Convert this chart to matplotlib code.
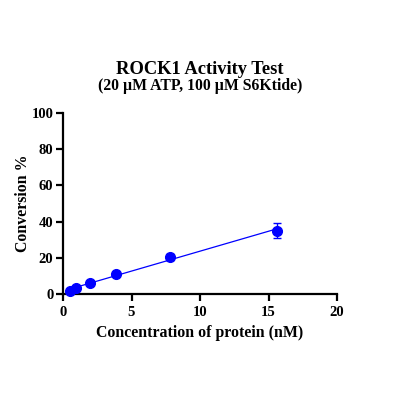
import numpy as np
import matplotlib
matplotlib.use("Agg")
import matplotlib.pyplot as plt

# Data
conc = np.array([0.49, 0.98, 1.95, 3.9, 7.8, 15.6])
conversion = np.array([1.5, 3.5, 6.0, 11.0, 20.5, 35.0])
err = np.array([0.4, 0.6, 0.6, 0.8, 1.6, 4.2])

x_ticks = [0, 5, 10, 15, 20]
y_ticks = [0, 20, 40, 60, 80, 100]

plt.rcParams['font.family'] = ['Liberation Serif', 'DejaVu Serif']
plt.rcParams['font.weight'] = 'bold'

fig = plt.figure(figsize=(4.03, 4.03), dpi=100)
ax = fig.add_axes([63/403, 109/403, 274/403, 181/403])

blue = '#0000ff'
# linear fit
slope, intercept = np.polyfit(conc, conversion, 1)
xf = np.array([conc.min(), conc.max()])
ax.plot(xf, slope * xf + intercept, color=blue, lw=0.9, zorder=2)
ax.errorbar(conc, conversion, yerr=err, fmt='o', color=blue, ms=7,
            ecolor=blue, elinewidth=1, capsize=3, capthick=1, zorder=3,
            clip_on=False)

ax.set_xlim(0, 20)
ax.set_ylim(0, 100)
ax.set_xticks(x_ticks)
ax.set_yticks(y_ticks)
for s in ['top', 'right']:
    ax.spines[s].set_visible(False)
for s in ['left', 'bottom']:
    ax.spines[s].set_linewidth(1.6)
ax.tick_params(width=1.6, length=5, labelsize=10.5, direction='out', pad=2)
ax.tick_params(axis='x', pad=4)
for lab in ax.get_xticklabels() + ax.get_yticklabels():
    lab.set_fontweight('bold')

ax.set_xlabel('Concentration of protein (nM)', fontsize=11.4, fontweight='bold', labelpad=4)
ax.set_ylabel('Conversion %', fontsize=11.4, fontweight='bold')
ax.yaxis.set_label_coords(-0.117, 0.5)

fig.text(200/403, 1 - 70/403, 'ROCK1 Activity Test', ha='center', va='center',
         fontsize=13.3, fontweight='bold')
fig.text(200/403, 1 - 86/403, '(20 \u00b5M ATP, 100 \u00b5M S6Ktide)', ha='center', va='center',
         fontsize=11.3, fontweight='bold')

fig.savefig('out.png', dpi=100)
